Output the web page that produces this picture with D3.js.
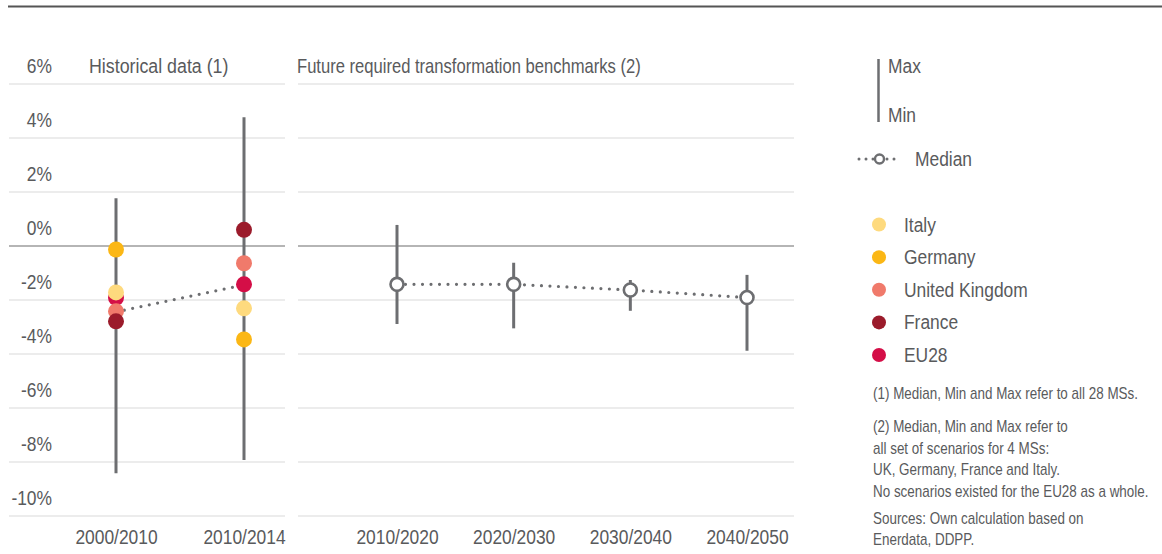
<!DOCTYPE html>
<html><head><meta charset="utf-8">
<script src="https://cdn.jsdelivr.net/npm/d3@7"></script>
<style>
body{margin:0;background:#fff;}
svg text{font-family:"Liberation Sans","Arial",sans-serif;fill:#595a5c;}
</style></head>
<body><svg id="c" width="1162" height="554"></svg>
<script>
// ---- data ----
const histCategories = ["2000/2010", "2010/2014"];
const futCategories = ["2010/2020", "2020/2030", "2030/2040", "2040/2050"];
const yTicks = [-10, -8, -6, -4, -2, 0, 2, 4, 6];
const histMax = [1.77, 4.77];
const histMin = [-8.42, -7.93];
const histMedian = [-2.44, -1.44];
const futMax = [0.78, -0.62, -1.26, -1.07];
const futMin = [-2.89, -3.05, -2.40, -3.88];
const futMedian = [-1.42, -1.42, -1.63, -1.91];
const countries = ["Italy", "Germany", "United Kingdom", "France", "EU28"];
const countryColors = ["#FEDA7E", "#FBB715", "#F07A6B", "#9B1B2B", "#D40E47"];
const italy = [-1.72, -2.31];
const germany = [-0.13, -3.46];
const uk = [-2.42, -0.64];
const france = [-2.79, 0.60];
const eu28 = [-1.92, -1.42];
const notes = [
  "(1) Median, Min and Max refer to all 28 MSs.",
  "(2) Median, Min and Max refer to",
  "all set of scenarios for 4 MSs:",
  "UK, Germany, France and Italy.",
  "No scenarios existed for the EU28 as a whole.",
  "Sources: Own calculation based on",
  "Enerdata, DDPP."
];

// ---- layout ----
const svg = d3.select("#c");
const GRAY = "#6D6E71";
const SX = 0.87;   // horizontal condensing of the text face
const y = d3.scaleLinear().domain([-10, 6]).range([516, 84]);
const xH = d3.scalePoint().domain(histCategories).range([116, 244]);
const xF = d3.scalePoint().domain(futCategories).range([397, 747]);

function txt(parent, x, yy, s, size, sx) {
  return parent.append("text")
    .attr("transform", `translate(${x},${yy}) scale(${sx || SX},1)`)
    .style("font-size", size + "px").text(s);
}

// top rule
svg.append("line").attr("x1", 8).attr("x2", 1162).attr("y1", 6.5).attr("y2", 6.5)
  .attr("stroke", "#555").attr("stroke-width", 2);

// gridlines
const panels = [[9, 285], [298, 794]];
panels.forEach(([a, b]) => {
  svg.append("g").selectAll("line").data(yTicks).join("line")
    .attr("x1", a).attr("x2", b)
    .attr("y1", d => y(d)).attr("y2", d => y(d))
    .attr("stroke", d => d === 0 ? "#b5b5b5" : "#dadada")
    .attr("stroke-width", d => d === 0 ? 1.8 : 1.2);
});

// y axis labels
const yAxis = svg.append("g").attr("transform", "translate(52,0)")
  .call(d3.axisLeft(y).tickValues(yTicks).tickSize(0).tickFormat(d => d + "%"));
yAxis.select(".domain").remove();
yAxis.selectAll("text").attr("x", 0).attr("dy", "-0.6em")
  .attr("transform", `scale(${SX},1)`)
  .style("font-size", "20px").style("fill", "#595a5c")
  .style("font-family", "Liberation Sans, Arial, sans-serif");

// x axes
function xAxis(scale) {
  const g = svg.append("g").attr("transform", "translate(0,516)")
    .call(d3.axisBottom(scale).tickSize(0));
  g.select(".domain").remove();
  g.selectAll("text").attr("y", 14).attr("dy", "0.71em")
    .attr("transform", `scale(${SX},1)`)
    .style("font-size", "20px").style("fill", "#595a5c")
    .style("font-family", "Liberation Sans, Arial, sans-serif");
}
xAxis(xH); xAxis(xF);

// panel titles
txt(svg, 89, 73, "Historical data (1)", 20, 0.89);
txt(svg, 297, 73, "Future required transformation benchmarks (2)", 20, 0.83);

// range bars
function ranges(scale, cats, mx, mn) {
  svg.append("g").selectAll("line").data(cats).join("line")
    .attr("x1", d => scale(d)).attr("x2", d => scale(d))
    .attr("y1", (d, i) => y(mx[i])).attr("y2", (d, i) => y(mn[i]))
    .attr("stroke", GRAY).attr("stroke-width", 3);
}
ranges(xH, histCategories, histMax, histMin);
ranges(xF, futCategories, futMax, futMin);

// dotted median lines
const dotted = (scale, cats, med) => svg.append("path")
  .datum(cats.map((c, i) => [scale(c), y(med[i])]))
  .attr("d", d3.line()).attr("fill", "none")
  .attr("stroke", GRAY).attr("stroke-width", 3.2)
  .attr("stroke-linecap", "round").attr("stroke-dasharray", "0,8.5");
dotted(xH, histCategories, histMedian);
dotted(xF, futCategories, futMedian);

// country points (EU28 drawn first)
const series = [
  {name: "EU28", vals: eu28, col: countryColors[4]},
  {name: "Italy", vals: italy, col: countryColors[0]},
  {name: "Germany", vals: germany, col: countryColors[1]},
  {name: "United Kingdom", vals: uk, col: countryColors[2]},
  {name: "France", vals: france, col: countryColors[3]}
];
series.forEach(s => {
  svg.append("g").selectAll("circle").data(histCategories).join("circle")
    .attr("cx", d => xH(d)).attr("cy", (d, i) => y(s.vals[i]))
    .attr("r", 8).attr("fill", s.col);
});

// future median markers
svg.append("g").selectAll("circle").data(futCategories).join("circle")
  .attr("cx", d => xF(d)).attr("cy", (d, i) => y(futMedian[i]))
  .attr("r", 6.5).attr("fill", "#fff").attr("stroke", GRAY).attr("stroke-width", 2.6);

// ---- legend ----
const L = svg.append("g");
L.append("line").attr("x1", 878.5).attr("x2", 878.5).attr("y1", 59).attr("y2", 122)
  .attr("stroke", GRAY).attr("stroke-width", 2.5);
txt(L, 888, 73, "Max", 20);
txt(L, 888, 122, "Min", 20);
L.append("path").attr("d", d3.line()([[859, 159], [901, 159]])).attr("fill", "none")
  .attr("stroke", GRAY).attr("stroke-width", 3).attr("stroke-linecap", "round")
  .attr("stroke-dasharray", "0,7");
L.append("circle").attr("cx", 879.5).attr("cy", 159).attr("r", 4.5)
  .attr("fill", "#fff").attr("stroke", GRAY).attr("stroke-width", 2.4);
txt(L, 915, 166, "Median", 20);

const ly = d3.scalePoint().domain(countries).range([224.5, 355]);
L.append("g").selectAll("circle").data(countries).join("circle")
  .attr("cx", 879).attr("cy", d => ly(d)).attr("r", 7)
  .attr("fill", (d, i) => countryColors[i]);
countries.forEach(c => txt(L, 904, ly(c) + 7, c, 20));

const noteY = [393, 426.5, 448, 469.5, 491, 518, 539.5];
notes.forEach((n, i) => txt(L, 873, noteY[i] + 5.5, n, 16, 0.84));
</script></body></html>
